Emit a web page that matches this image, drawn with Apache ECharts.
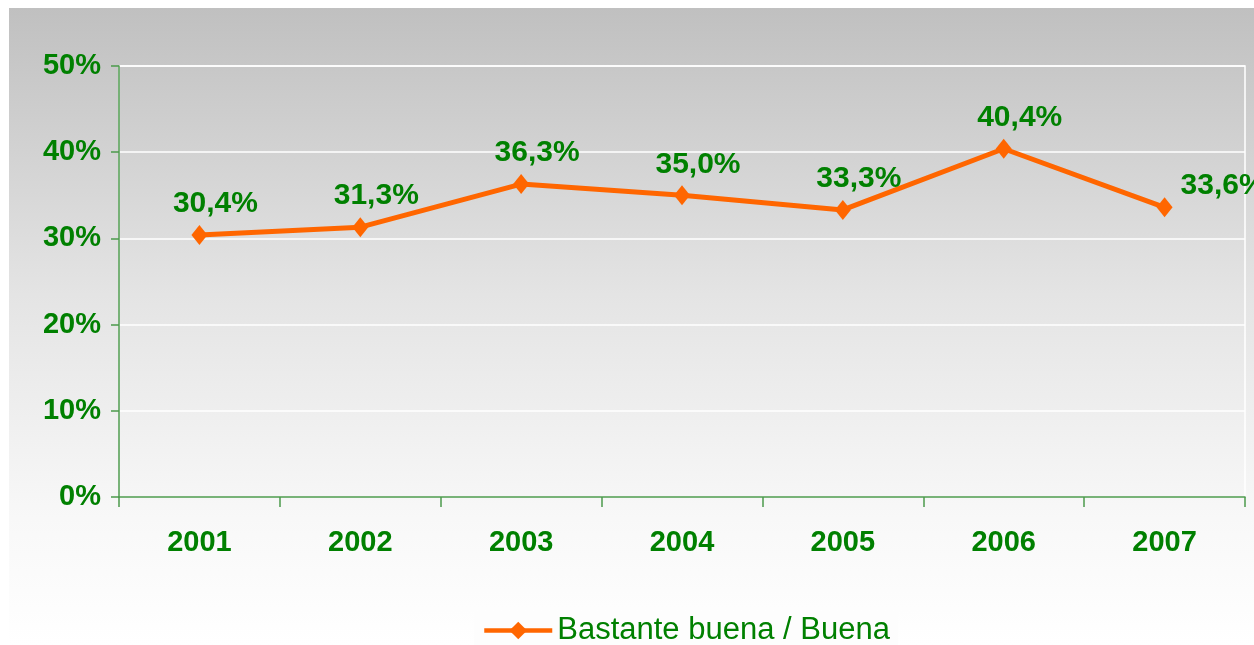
<!DOCTYPE html>
<html>
<head>
<meta charset="utf-8">
<script src="https://cdn.jsdelivr.net/npm/echarts@6/dist/echarts.min.js"></script>
<style>
  html, body { margin: 0; padding: 0; background: #fff; }
  #EchartMain { width: 1254px; height: 645px; }
</style>
</head>
<body>
<div id="EchartMain"></div>
<script>
// datos del gráfico
const years = ["2001", "2002", "2003", "2004", "2005", "2006", "2007"];
const values = [30.4, 31.3, 36.3, 35.0, 33.3, 40.4, 33.6];
const seriesName = "Bastante buena / Buena";

const green = "#008000";
const orange = "#ff6600";

const fmt = (v) => v.toFixed(1).replace(".", ",") + "%";

const option = {
  animation: false,
  textStyle: { fontFamily: "Liberation Sans, Arial, sans-serif" },
  graphic: [
    {
      type: "rect",
      z: -10,
      silent: true,
      shape: { x: 9, y: 8, width: 1245, height: 637 },
      style: {
        fill: new echarts.graphic.LinearGradient(0, 0, 0, 1, [
          { offset: 0, color: "#c0c0c0" },
          { offset: 0.45, color: "#e4e4e4" },
          { offset: 0.8, color: "#f8f8f8" },
          { offset: 1, color: "#ffffff" },
        ]),
      },
    },
  ],
  grid: {
    left: 119,
    right: 9,
    top: 66,
    bottom: 148,
    show: true,
    borderColor: "#ffffff",
    borderWidth: 1.5,
    backgroundColor: "transparent",
  },
  legend: {
    top: 611,
    left: 474,
    padding: [4, 8, 8, 8],
    backgroundColor: "#fdfdfd",
    itemWidth: 68,
    itemHeight: 22,
    itemGap: 6,
    lineStyle: { width: 4.5 },
    textStyle: { color: green, fontSize: 31, fontFamily: "Liberation Sans, Arial, sans-serif" },
    data: [seriesName],
  },
  xAxis: {
    type: "category",
    data: years,
    boundaryGap: true,
    axisLine: { lineStyle: { color: "#4c9a4c", width: 1.5 } },
    axisTick: { show: true, length: 10, alignWithLabel: false, lineStyle: { color: "#4c9a4c", width: 1.5 } },
    axisLabel: { color: green, fontSize: 29, fontWeight: "bold", margin: 31 },
  },
  yAxis: {
    type: "value",
    min: 0,
    max: 50,
    interval: 10,
    axisLine: { show: true, lineStyle: { color: "#4c9a4c", width: 1.5 } },
    axisTick: { show: true, length: 8, lineStyle: { color: "#4c9a4c", width: 1.5 } },
    splitLine: { lineStyle: { color: "#ffffff", width: 1.5 } },
    axisLabel: {
      color: green,
      fontSize: 29,
      fontWeight: "bold",
      margin: 18,
      formatter: (v) => v + "%",
    },
  },
  series: [
    {
      name: seriesName,
      type: "line",
      data: values.map((v, i) =>
        i === values.length - 1
          ? { value: v, label: { position: "right", distance: 8, offset: [0, -22] } }
          : v
      ),
      symbol: "diamond",
      symbolSize: [16, 20],
      lineStyle: { color: orange, width: 5 },
      itemStyle: { color: orange },
      label: {
        show: true,
        position: "top",
        distance: 6,
        offset: [16, 0],
        color: green,
        fontSize: 30,
        fontWeight: "bold",
        formatter: (p) => fmt(p.value),
      },
    },
  ],
};

const myChart = echarts.init(document.getElementById("EchartMain"));
myChart.setOption(option);
window.addEventListener("resize", () => {
  myChart.resize();
});
</script>
</body>
</html>
